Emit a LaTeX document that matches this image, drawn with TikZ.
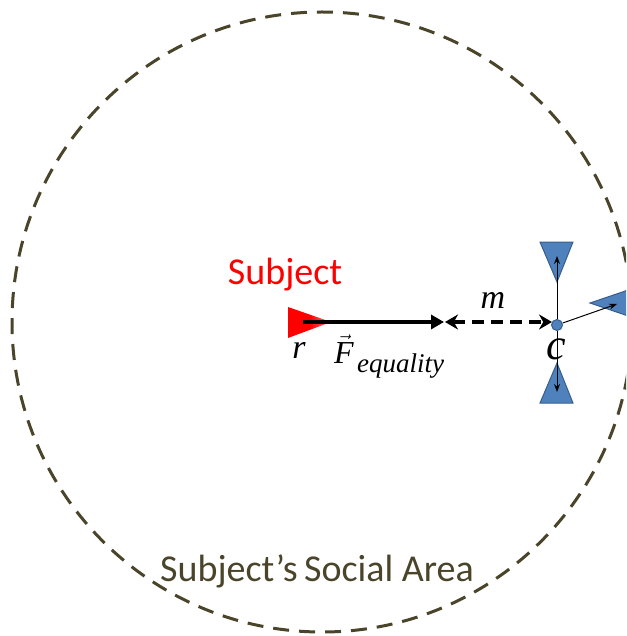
\documentclass[tikz,border=0pt]{standalone}
\usepackage{amsmath}
\usepackage{fontspec}
\setmainfont{Liberation Serif}
\newfontfamily\calfont{Carlito}
\usetikzlibrary{arrows.meta}
\definecolor{olive}{HTML}{4A452A}
\definecolor{officeblue}{HTML}{4F81BD}
\definecolor{blueedge}{HTML}{385D8A}
\tikzset{
  tri/.style={fill=officeblue, draw=blueedge, line width=1pt},
  lbl/.style={inner sep=0pt, font=\fontsize{34}{40}\selectfont\itshape},
  thin arrow/.style={line width=1pt, -{Stealth[length=8pt,width=6pt]}}
}
\begin{document}
\begin{tikzpicture}[x=1pt,y=-1pt]
\useasboundingbox (0,0) rectangle (626,636);
\begin{scope}
\clip (0,0) rectangle (626,636);
% social area
\draw[olive, line width=3pt, dash pattern=on 16pt off 10pt] (322,322) circle (310);
% subject triangle
\shade[left color=red, right color=red!55!white, middle color=red] (288,307) -- (331,322) -- (288,338) -- cycle;
% blue triangles
\draw[tri] (540,242) -- (573,242) -- (557,282) -- cycle;
\draw[tri] (540,403) -- (573,403) -- (557,363) -- cycle;
\draw[tri] (590,303) -- (640,286) -- (640,320) -- cycle;
\end{scope}
\coordinate (rs) at (303,322);
\coordinate (fe) at (444,322);
\coordinate (fe2) at (445,322);
\coordinate (ce) at (552,322);
\node[circle, fill=officeblue, draw=blueedge, line width=1pt, minimum size=11pt, inner sep=0pt] (c) at (557,325) {};
\coordinate (up) at (557,256);
\coordinate (dn) at (557,392);
\coordinate (rt) at (617,304);
\draw[line width=4pt, -{Triangle[length=13pt,width=14pt]}] (rs) -- (fe);
\draw[line width=4.5pt, dash pattern=on 12pt off 7pt, {Stealth[length=13pt,width=15pt]}-{Stealth[length=13pt,width=15pt]}] (fe2) -- (ce);
\draw[thin arrow] (c) -- (up);
\draw[thin arrow] (c) -- (dn);
\draw[thin arrow] (c) -- (rt);
% labels
\node[red, inner sep=0pt, font=\calfont\fontsize{38}{44}\selectfont] (subj) at (285,275) {Subject};
\node[lbl] (r) at (299,350) {r};
\node[lbl] (m) at (493,300) {m};
\node[lbl, font=\fontsize{44}{50}\selectfont\itshape] (cl) at (556,349) {c};
\node[inner sep=0pt, anchor=base west, font=\fontsize{32}{38}\selectfont] (F) at (334,363) {$\vec{\textit{F}}$};
\node[inner sep=0pt, anchor=base west, font=\fontsize{27}{32}\selectfont\itshape] (sub) at (357,372) {equality};
\node[olive, inner sep=0pt, font=\calfont\fontsize{38}{44}\selectfont] (area) at (317,571) {Subject’s\,Social Area};
\end{tikzpicture}
\end{document}
